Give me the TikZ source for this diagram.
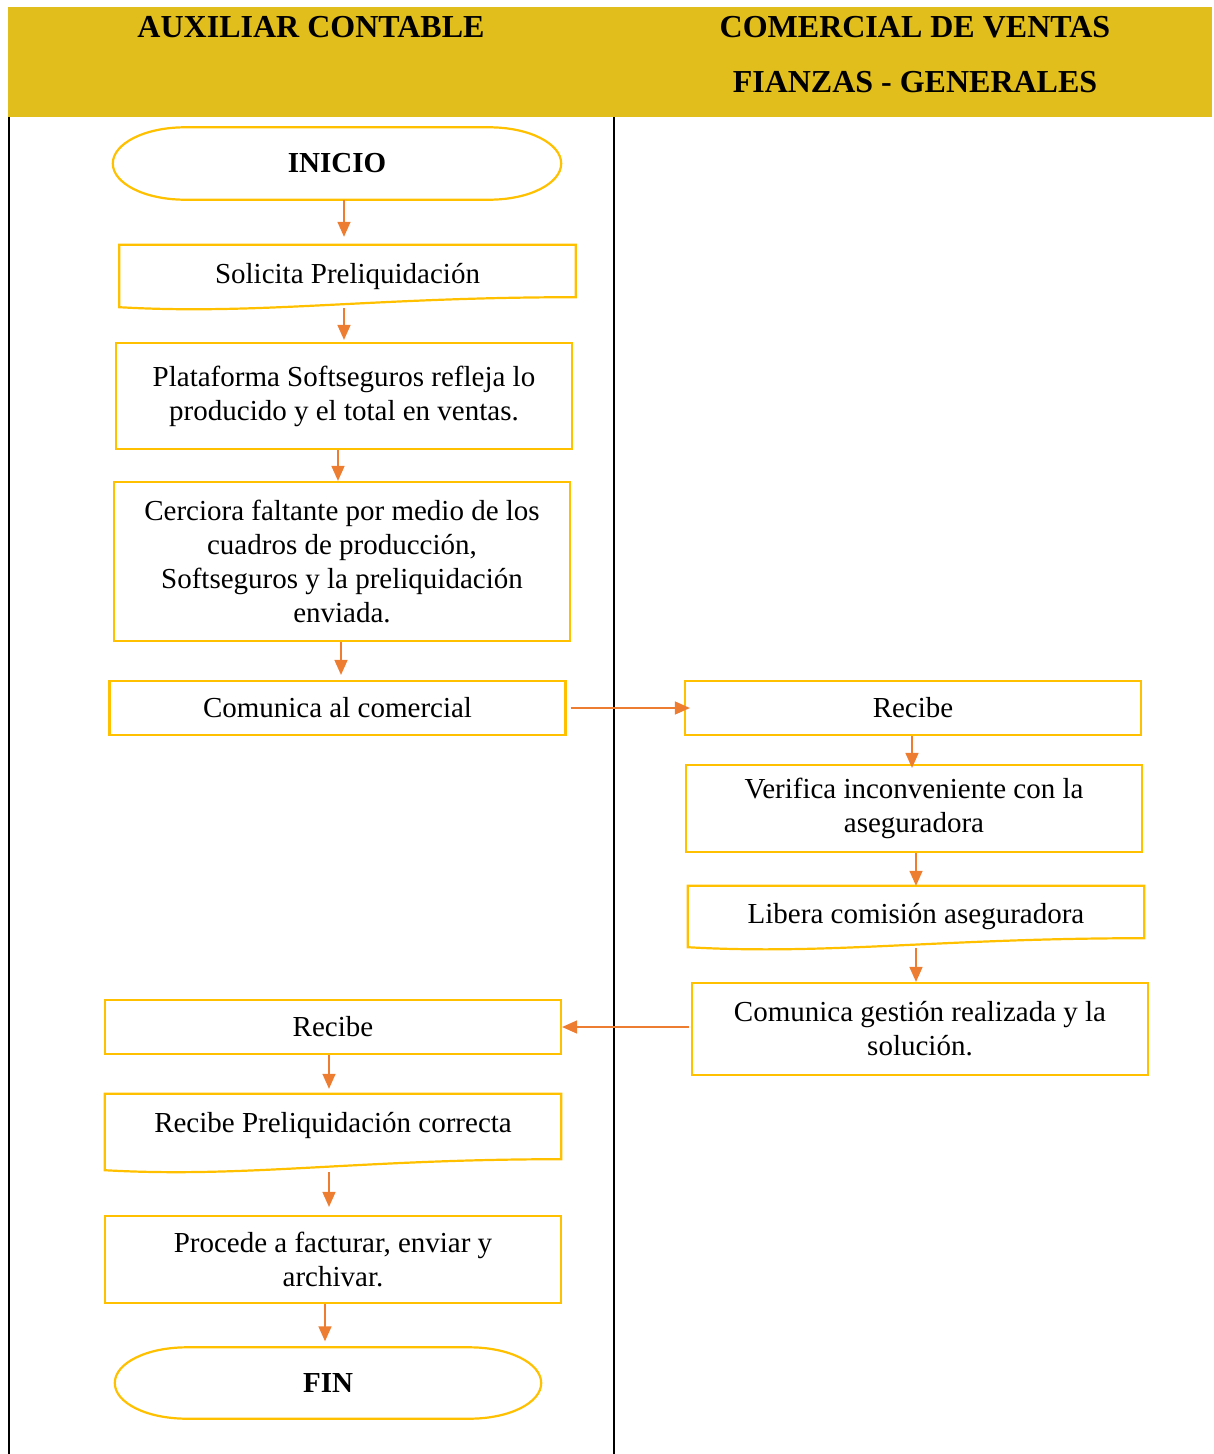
\documentclass[tikz,border=0pt]{standalone}
\usepackage{fontspec}
\setmainfont{Liberation Serif}
\usetikzlibrary{calc,arrows.meta}
\definecolor{bandgold}{HTML}{E2BE1C}
\definecolor{boxgold}{HTML}{FFC000}
\definecolor{arrorange}{HTML}{ED7D31}

% document symbol: straight top and sides, wavy bottom
% #1 node name, #2 drop of the left end, #3 drop of the right end
\newcommand\docshape[3]{%
  \draw[outline] (#1.north west) -- (#1.north east) -- ($(#1.south east)+(0,#3)$)
    .. controls ($(#1.south east)+(-205,#3)$) and ($(#1.south west)+(140,#2+8)$)
    .. ($(#1.south west)+(0,#2)$) -- cycle;}

% terminal symbol: stadium with elliptical ends
\newcommand\termshape[1]{%
  \draw[outline] ($(#1.north west)+(72,0)$) -- ($(#1.north east)+(-72,0)$)
   .. controls ($(#1.north east)+(-32,0)$) and ($(#1.east)+(0,-20)$) .. (#1.east)
   .. controls ($(#1.east)+(0,20)$) and ($(#1.south east)+(-32,0)$) .. ($(#1.south east)+(-72,0)$)
   -- ($(#1.south west)+(72,0)$)
   .. controls ($(#1.south west)+(32,0)$) and ($(#1.west)+(0,20)$) .. (#1.west)
   .. controls ($(#1.west)+(0,-20)$) and ($(#1.north west)+(32,0)$) .. ($(#1.north west)+(72,0)$)
   -- cycle;}

\begin{document}
\begin{tikzpicture}[x=1pt,y=-1pt,
  every node/.style={font=\fontsize{29}{34}\selectfont, align=center, inner sep=0pt},
  stepbox/.style={draw=boxgold, line width=2.2pt, minimum width=456pt},
  plain/.style={minimum width=456pt},
  outline/.style={draw=boxgold, line width=2.2pt},
  flow/.style={draw=arrorange, line width=1.5pt, -{Triangle[length=15pt,width=13pt]}},
  lane/.style={draw=black, line width=2pt},
  head/.style={font=\fontsize{32}{55}\selectfont\bfseries}]
\useasboundingbox (0,0) rectangle (1214,1454);

% lane headers
\fill[bandgold] (8,7) rectangle (1212,117);
\node[head] (h1) at (311,27) {AUXILIAR CONTABLE};
\node[head] (h2) at (915,54.5) {COMERCIAL DE VENTAS\\FIANZAS - GENERALES};

% lane borders
\draw[lane] (9,117) -- (9,1454);
\draw[lane] (614,117) -- (614,1454);

% left lane
\node[minimum width=448pt, minimum height=72pt, font=\fontsize{29}{34}\selectfont\bfseries] (inicio) at (337,163.5) {INICIO};
\termshape{inicio}

\node[plain, minimum height=62pt] (sol) at (347.5,276) {Solicita Preliquidación};
\docshape{sol}{0}{-10}

\node[stepbox, minimum height=106pt] (plat) at (344,396) {Plataforma Softseguros refleja lo\\producido y el total en ventas.};

\node[stepbox, minimum height=159pt] (cerc) at (342,561.5) {Cerciora faltante por medio de los\\cuadros de producción,\\Softseguros y la preliquidación\\enviada.};

\node[stepbox, minimum height=54pt] (com) at (337.5,708) {Comunica al comercial};

% right lane
\node[stepbox, minimum height=54pt] (rec1) at (913,708) {Recibe};

\node[stepbox, minimum height=87pt] (ver) at (914,808.5) {Verifica inconveniente con la\\aseguradora};

\node[plain, minimum height=61pt] (lib) at (916,916.5) {Libera comisión aseguradora};
\docshape{lib}{0}{-9}

\node[stepbox, minimum height=92pt] (ges) at (920,1029) {Comunica gestión realizada y la\\solución.};

% back in the left lane
\node[stepbox, minimum height=54pt] (rec2) at (333,1027) {Recibe};

\node[plain, minimum height=62pt] (rprel) at (333,1125) {Recibe Preliquidación correcta};
\docshape{rprel}{14}{3}

\node[stepbox, minimum height=87pt] (proc) at (333,1259.5) {Procede a facturar, enviar y\\archivar.};

\node[minimum width=426pt, minimum height=71pt, font=\fontsize{29}{34}\selectfont\bfseries] (fin) at (328,1383) {FIN};
\termshape{fin}

% columns of the vertical connectors
\coordinate (ca) at (344,0);
\coordinate (cb) at (338,0);
\coordinate (cc) at (341,0);
\coordinate (cd) at (912,0);
\coordinate (ce) at (916,0);
\coordinate (cf) at (329,0);
\coordinate (cg) at (325,0);

% connectors
\draw[flow, shorten >=8pt] (inicio.south -| ca) -- (sol.north -| ca);
\draw[flow, shorten <=1pt, shorten >=2pt] (sol.south -| ca) -- (plat.north -| ca);
\draw[flow] (plat.south -| cb) -- (cerc.north -| cb);
\draw[flow, shorten >=5pt] (cerc.south -| cc) -- (com.north -| cc);
\draw[flow, shorten <=4pt, shorten >=-6pt] (com.east) -- (com.east -| rec1.west);
\draw[flow, shorten >=-4pt] (rec1.south -| cd) -- (ver.north -| cd);
\draw[flow] (ver.south -| ce) -- (lib.north -| ce);
\draw[flow, shorten <=1pt] (lib.south -| ce) -- (ges.north -| ce);
\draw[flow, shorten <=2pt] (ges.west |- rec2.east) -- (rec2.east);
\draw[flow, shorten >=5pt] (rec2.south -| cf) -- (rprel.north -| cf);
\draw[flow, shorten <=16pt, shorten >=8pt] (rprel.south -| cf) -- (proc.north -| cf);
\draw[flow, shorten >=6pt] (proc.south -| cg) -- (fin.north -| cg);
\end{tikzpicture}
\end{document}
